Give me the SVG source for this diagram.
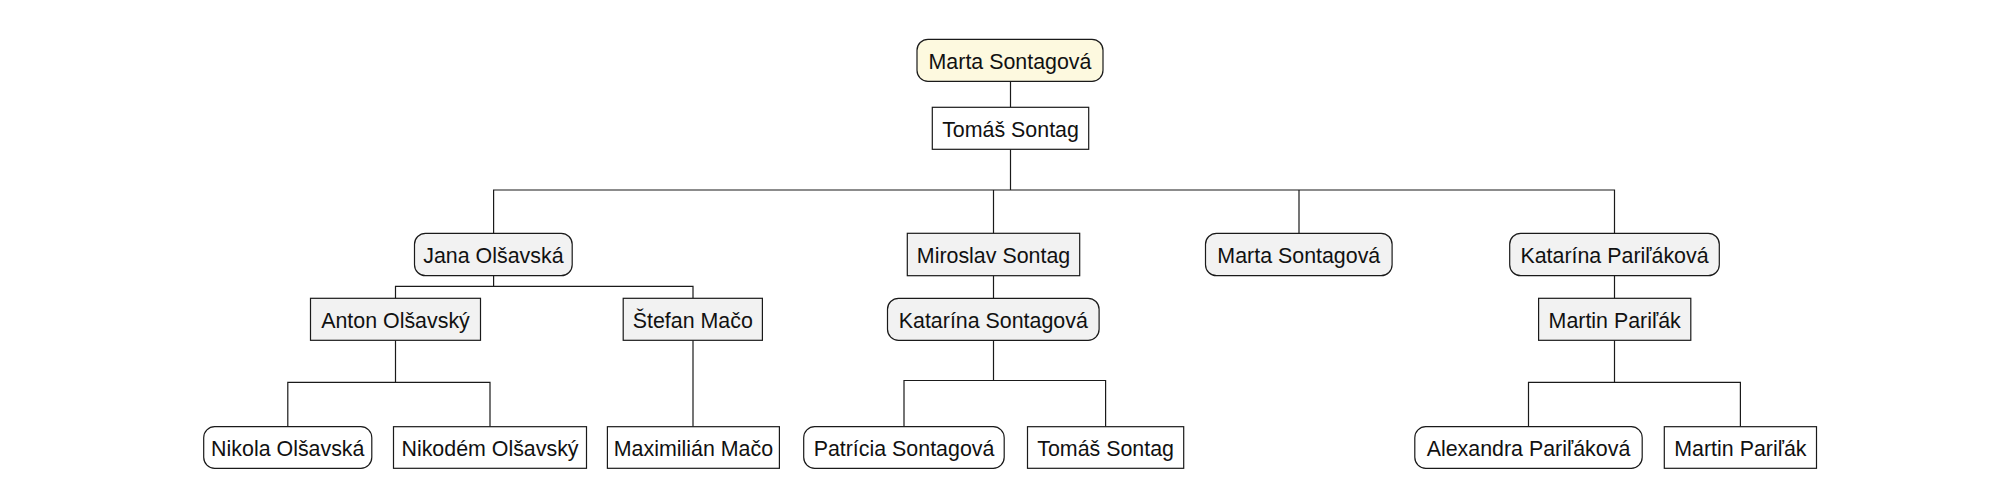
<svg xmlns="http://www.w3.org/2000/svg" width="2000" height="489" viewBox="0 0 2000 489">
<style>
.bg{fill:#ffffff}
.n rect{stroke:#1a1a1a;stroke-width:1.2}
.root rect{fill:#fdf9df}
.g rect{fill:#f2f2f2}
.w rect{fill:#ffffff}
.n text{font-family:"Liberation Sans",Arial,sans-serif;font-size:21.4px;fill:#111;text-anchor:middle}
#connectors path{fill:none;stroke:#1a1a1a;stroke-width:1.2}
</style>
<rect class="bg" x="0" y="0" width="2000" height="489"/>
<g id="connectors">
<path d="M1010.5 81.3V107.3"/>
<path d="M1010.5 149.3V190"/>
<path d="M493.6 233.3V190H1614.5V233.3"/>
<path d="M993.5 190V233.3"/>
<path d="M1299 190V233.3"/>
<path d="M493.6 275.7V286.3"/>
<path d="M395.5 298.3V286.3H693V298.3"/>
<path d="M395.5 340.3V382.3"/>
<path d="M287.8 426.7V382.3H490V426.7"/>
<path d="M693 340.3V426.7"/>
<path d="M993.5 275.7V298.3"/>
<path d="M993.5 340.3V380.5"/>
<path d="M904 426.7V380.5H1105.6V426.7"/>
<path d="M1614.5 275.7V298.3"/>
<path d="M1614.5 340.3V382.3"/>
<path d="M1528.5 426.7V382.3H1740.4V426.7"/>
</g>
<g id="n-root" class="n root"><rect x="917" y="39.3" width="186" height="42" rx="11"/><text x="1010" y="68.5">Marta Sontagová</text></g>
<g id="n-tomas" class="n w"><rect x="932.3" y="107.3" width="156.4" height="42"/><text x="1010.5" y="136.5">Tomáš Sontag</text></g>
<g id="n-jana" class="n g"><rect x="414.5" y="233.3" width="157.7" height="42.4" rx="11"/><text x="493.4" y="262.7">Jana Olšavská</text></g>
<g id="n-miroslav" class="n g"><rect x="907.3" y="233.3" width="172.4" height="42.4"/><text x="993.5" y="262.7">Miroslav Sontag</text></g>
<g id="n-marta2" class="n g"><rect x="1205.5" y="233.3" width="186.6" height="42.4" rx="11"/><text x="1298.8" y="262.7">Marta Sontagová</text></g>
<g id="n-katarinap" class="n g"><rect x="1509.7" y="233.3" width="209.6" height="42.4" rx="11"/><text x="1614.5" y="262.7">Katarína Pariľáková</text></g>
<g id="n-anton" class="n g"><rect x="310.5" y="298.3" width="170" height="42"/><text x="395.5" y="327.5">Anton Olšavský</text></g>
<g id="n-stefan" class="n g"><rect x="623.2" y="298.3" width="139.2" height="42"/><text x="692.8" y="327.5">Štefan Mačo</text></g>
<g id="n-katarinas" class="n g"><rect x="887.5" y="298.3" width="211.6" height="42" rx="11"/><text x="993.3" y="327.5">Katarína Sontagová</text></g>
<g id="n-martinp" class="n g"><rect x="1538.6" y="298.3" width="152.2" height="42"/><text x="1614.7" y="327.5">Martin Pariľák</text></g>
<g id="n-nikola" class="n w"><rect x="203.7" y="426.7" width="168.1" height="41.6" rx="11"/><text x="287.8" y="455.7">Nikola Olšavská</text></g>
<g id="n-nikodem" class="n w"><rect x="393.5" y="426.7" width="193" height="41.6"/><text x="490" y="455.7">Nikodém Olšavský</text></g>
<g id="n-maximilian" class="n w"><rect x="607.4" y="426.7" width="172" height="41.6"/><text x="693.4" y="455.7">Maximilián Mačo</text></g>
<g id="n-patricia" class="n w"><rect x="803.7" y="426.7" width="200.5" height="41.6" rx="11"/><text x="904" y="455.7">Patrícia Sontagová</text></g>
<g id="n-tomas2" class="n w"><rect x="1027.5" y="426.7" width="156.2" height="41.6"/><text x="1105.6" y="455.7">Tomáš Sontag</text></g>
<g id="n-alexandra" class="n w"><rect x="1414.8" y="426.7" width="227.4" height="41.6" rx="11"/><text x="1528.5" y="455.7">Alexandra Pariľáková</text></g>
<g id="n-martin2" class="n w"><rect x="1664.3" y="426.7" width="152.2" height="41.6"/><text x="1740.4" y="455.7">Martin Pariľák</text></g>
</svg>
